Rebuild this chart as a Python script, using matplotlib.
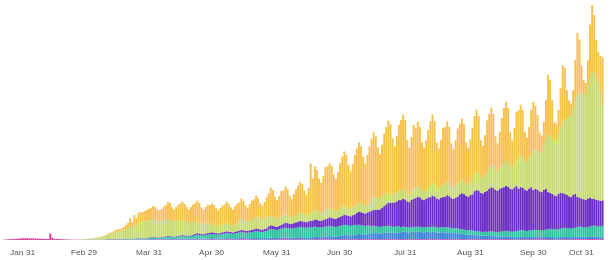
import matplotlib
matplotlib.use('Agg')
import matplotlib.pyplot as plt
import matplotlib.dates as mdates
import matplotlib.transforms as mtransforms
import numpy as np
import pandas as pd

# daily values (arbitrary units, read by eye), Jan 22 .. Nov 2 2020
start_date = '2020-01-22'
n_days = 286

pink = [
0.4,0.5,0.7,0.8,1.0,1.1,1.3,
1.4,1.6,1.7,1.6,1.8,1.6,1.6,
1.7,1.5,1.4,1.3,1.2,1.1,1.0,
1.1,6.5,2.2,1.2,1.0,1.0,0.9,
0.7,0.6,0.5,0.4,0.4,0.3,0.3,
0.3,0.2,0.3,0.2,0.3,0.3,0.2,
0.3,0.3,0.2,0.3,0.3,0.3,0.3,
0.4,0.4,0.3,0.4,0.4,0.4,0.4,
0.4,0.5,0.4,0.4,0.3,0.4,0.4,
0.4,0.5,0.4,0.4,0.4,0.4,0.5,
0.5,0.6,0.5,0.5,0.4,0.5,0.5,
0.5,0.6,0.5,0.5,0.4,0.5,0.5,
0.5,0.6,0.5,0.5,0.4,0.5,0.5,
0.5,0.6,0.5,0.5,0.4,0.5,0.5,
0.6,0.7,0.6,0.6,0.5,0.6,0.6,
0.6,0.7,0.6,0.6,0.5,0.6,0.6,
0.6,0.7,0.6,0.6,0.5,0.6,0.6,
0.6,0.7,0.6,0.6,0.5,0.6,0.6,
0.7,0.8,0.7,0.7,0.6,0.7,0.7,
0.7,0.8,0.7,0.7,0.6,0.7,0.7,
0.7,0.8,0.7,0.7,0.6,0.7,0.7,
0.7,0.8,0.7,0.7,0.6,0.7,0.7,
0.7,0.8,0.7,0.7,0.6,0.7,0.7,
0.8,0.9,0.8,0.8,0.7,0.8,0.8,
0.8,0.9,0.8,0.8,0.7,0.8,0.8,
0.8,0.9,0.8,0.8,0.7,0.8,0.8,
0.8,0.9,0.8,0.8,0.7,0.8,0.8,
0.8,0.9,0.8,0.8,0.7,0.8,0.8,
0.8,0.9,0.8,0.8,0.7,0.8,0.8,
0.8,0.9,0.8,0.8,0.7,0.8,0.8,
0.8,0.9,0.8,0.8,0.7,0.8,0.8,
0.8,0.9,0.8,0.8,0.7,0.8,0.8,
0.8,0.9,0.8,0.8,0.7,0.8,0.8,
0.8,0.9,0.8,0.8,0.7,0.8,0.8,
0.8,0.9,0.8,0.8,0.7,0.8,0.8,
0.8,0.9,0.8,0.8,0.7,0.8,0.8,
0.8,0.9,0.8,0.8,0.7,0.8,0.8,
0.8,0.9,0.8,0.8,0.7,0.8,0.8,
0.8,0.9,0.8,0.8,0.7,0.8,0.8,
0.9,1.0,0.9,0.9,0.8,0.9,0.9,
0.9,1.0,0.9,0.9,0.8,0.9,
]

blue = [
0,0,0,0,0,0,0,
0,0,0,0,0,0,0,
0,0,0,0,0,0,0,
0,0,0,0,0,0,0,
0,0,0,0,0,0,0,
0,0,0,0,0,0,0,
0,0,0,0,0,0,0,
0.1,0.1,0.1,0.1,0.1,0.1,0.1,
0.2,0.2,0.2,0.2,0.1,0.2,0.2,
0.3,0.3,0.3,0.3,0.2,0.3,0.3,
0.5,0.5,0.5,0.4,0.4,0.5,0.5,
0.7,0.7,0.7,0.6,0.6,0.7,0.7,
0.8,0.9,0.8,0.8,0.7,0.8,0.8,
1.0,1.1,1.0,0.9,0.9,1.0,1.0,
1.1,1.2,1.1,1.0,1.0,1.1,1.1,
1.2,1.3,1.2,1.1,1.1,1.2,1.2,
1.3,1.4,1.3,1.2,1.2,1.3,1.3,
1.4,1.5,1.4,1.3,1.3,1.4,1.4,
1.5,1.6,1.5,1.4,1.4,1.5,1.5,
1.7,1.8,1.7,1.6,1.6,1.7,1.8,
2.0,2.1,2.0,1.9,1.9,2.0,2.1,
2.2,2.4,2.3,2.1,2.1,2.3,2.6,
2.8,3.1,3.0,2.8,2.8,3.0,3.3,
3.8,4.1,4.0,3.8,3.7,4.0,4.3,
4.8,5.1,5.0,4.8,4.7,5.0,5.3,
5.8,6.2,6.0,5.8,5.7,6.0,6.3,
6.4,6.8,6.6,6.3,6.2,6.5,6.8,
7.0,7.4,7.3,7.0,6.9,7.2,7.4,
7.1,7.4,7.3,7.0,6.9,7.2,7.3,
6.9,7.2,7.1,6.8,6.7,7.0,7.0,
6.5,6.8,6.6,6.2,6.0,6.1,6.0,
5.4,5.3,5.1,4.8,4.6,4.6,4.4,
4.1,4.0,3.9,3.6,3.5,3.5,3.3,
3.2,3.2,3.1,2.9,2.8,2.9,2.8,
2.6,2.7,2.6,2.4,2.3,2.4,2.4,
2.3,2.4,2.3,2.2,2.1,2.2,2.3,
2.2,2.3,2.2,2.1,2.0,2.2,2.2,
2.2,2.3,2.2,2.1,2.0,2.2,2.2,
2.2,2.3,2.2,2.1,2.0,2.2,2.2,
2.2,2.3,2.2,2.1,2.0,2.2,2.2,
2.2,2.3,2.2,2.1,2.0,2.2,
]

teal = [
0,0,0,0,0,0,0,
0,0,0,0,0,0,0,
0,0,0,0,0,0,0,
0,0,0,0,0,0,0,
0,0,0,0,0,0,0,
0,0.1,0.1,0.1,0.2,0.2,0.2,
0.3,0.3,0.3,0.3,0.3,0.3,0.3,
0.4,0.4,0.4,0.4,0.4,0.4,0.4,
0.5,0.6,0.6,0.6,0.6,0.6,0.7,
0.7,0.8,0.8,0.8,0.8,0.9,1.0,
1.3,1.5,1.5,1.4,1.4,1.5,1.7,
1.9,2.0,2.0,1.9,1.9,2.0,2.2,
2.4,2.6,2.5,2.4,2.3,2.5,2.8,
3.3,3.6,3.5,3.3,3.2,3.5,3.8,
3.8,4.1,4.0,3.8,3.7,4.0,4.3,
4.6,4.9,4.8,4.6,4.5,4.8,5.2,
5.6,5.9,5.8,5.6,5.5,5.8,6.1,
6.3,6.7,6.5,6.3,6.2,6.5,7.0,
8.2,8.7,8.5,8.2,8.0,8.5,9.0,
9.3,9.7,9.5,9.2,9.1,9.5,9.8,
9.8,10.2,10.0,9.8,9.7,10.0,10.2,
9.9,10.2,10.0,9.8,9.7,10.0,10.2,
9.9,10.2,10.0,9.8,9.7,10.0,10.2,
9.9,10.2,10.0,9.8,9.7,10.0,10.0,
9.2,9.3,9.0,8.8,8.6,8.8,8.6,
7.4,7.3,7.0,6.8,6.7,6.9,6.8,
6.6,6.7,6.5,6.3,6.2,6.4,6.3,
5.1,5.2,5.0,4.9,4.8,5.0,5.0,
5.0,5.1,5.0,4.9,4.8,5.0,5.0,
5.2,5.3,5.2,5.0,4.9,5.1,5.1,
5.0,5.1,5.0,4.9,4.8,5.0,5.0,
4.5,4.6,4.5,4.4,4.3,4.5,4.5,
4.0,4.1,4.0,3.9,3.8,4.0,4.1,
4.4,4.6,4.5,4.4,4.3,4.5,4.7,
5.4,5.6,5.5,5.3,5.2,5.5,5.7,
6.4,6.6,6.5,6.3,6.2,6.5,6.7,
6.9,7.1,7.0,6.8,6.7,7.0,7.3,
7.9,8.1,8.0,7.8,7.7,8.0,8.3,
8.9,9.1,9.0,8.8,8.7,9.0,9.3,
9.9,10.2,10.0,9.8,9.7,10.0,10.4,
11.0,11.2,11.0,10.8,10.7,11.0,
]

purple = [
0,0,0,0,0,0,0,
0,0,0,0,0,0,0,
0,0,0,0,0,0,0,
0,0,0,0,0,0,0,
0,0,0,0,0,0,0,
0,0,0,0,0,0,0,
0,0,0,0,0,0,0,
0.1,0.1,0.1,0.1,0.1,0.1,0.1,
0.2,0.2,0.2,0.2,0.2,0.2,0.2,
0.3,0.3,0.3,0.3,0.3,0.3,0.3,
0.5,0.5,0.5,0.4,0.4,0.5,0.5,
0.6,0.7,0.6,0.6,0.5,0.6,0.6,
0.8,0.9,0.8,0.8,0.7,0.8,0.9,
1.4,1.6,1.5,1.4,1.3,1.5,1.6,
1.5,1.7,1.6,1.5,1.4,1.6,1.7,
1.6,1.8,1.7,1.6,1.5,1.7,1.8,
1.9,2.1,2.0,1.9,1.8,2.0,2.1,
2.4,2.6,2.5,2.4,2.3,2.5,2.7,
3.3,3.6,3.5,3.3,3.2,3.5,3.8,
4.8,5.1,5.0,4.8,4.7,5.0,5.3,
5.8,6.1,6.0,5.8,5.7,6.0,6.3,
6.8,7.2,7.0,6.8,6.7,7.0,7.3,
8.2,8.6,8.5,8.2,8.1,8.5,8.9,
9.6,10.2,10.0,9.7,9.5,10.0,10.5,
12.4,13.2,13.0,12.6,12.4,13.0,13.8,
15,16,16.5,17,17.5,18.5,20,
22,23,23.5,24,24.5,25,26,
27,28,27.5,26,25.5,27,28,
29,30,29.5,28,27.5,28.5,29.5,
30,31,30.5,29,28.5,29.5,30,
31,32,31.5,30,29.5,30.5,31.5,
35,36,35.5,34,33.5,35,36,
40,41,40.5,39,38.5,40,41,
43,44,43.5,42,41.5,43,44,
44,45,44.5,43,42.5,44,45,
42,43,42.5,41,40.5,42,43,
40,41,40.5,39,38.5,40,41,
37,36,35,34,33.5,35,36,
35,34,33,32,31.5,33,34,
30,29,28.5,28,27.5,28.5,29,
27,26.5,26,26,25.5,25.5,
]

green = [
0,0,0,0,0,0,0,
0,0,0,0,0,0,0,
0,0,0,0,0,0,0,
0,0,0,0,0,0,0,
0,0,0,0.1,0.1,0.2,0.2,
0.3,0.3,0.4,0.5,0.6,0.7,0.9,
1.1,1.4,1.7,2.0,2.4,2.8,3.2,
4,5,5.5,6,7,7,7.5,
8,8.5,9.5,10.5,12,11,13,
13,15,16,16.5,17,17.5,18,
17,18,17.5,16.5,16,16.5,17,
16.5,17,16.5,15.5,15,15.5,16,
14.5,15,14.5,13.5,13,13.5,14,
11,11.5,11,10,9.5,10,10.5,
8.5,9,8.5,7.5,7,7.5,8,
8,8.5,8,7,6.5,7,7.5,
10,11,10.5,9.5,9,9.5,10,
11,12,11.5,10.5,10,10.5,11.5,
9.5,10,9.5,8.5,8,8.5,9,
8,8.5,8,7,6.5,7,7.5,
8,8.5,8,7.5,7,7.5,8,
9,10,9.5,8.5,8,8.5,9.5,
9,9.5,9,8,7.5,8,9,
8.5,9,8.5,7.5,7,7.5,8.5,
8.5,9,8.5,8,7.5,8,9,
12,13,12.5,11.5,11,12,13,
9,10,9.5,8.5,8,9,9.5,
9,10,9.5,8,7.5,8.5,9.5,
10,11,10.5,9,8.5,9.5,10.5,
12,13,12.5,11,10.5,11.5,12.5,
13,14,13.5,12,11.5,12.5,13.5,
13,14,13.5,12,11.5,12.5,13.5,
17,19,18,16,15.5,17,18.5,
21,23,22,20,19.5,21,23,
24,26,25,23,22,24,25.5,
30,32,31,29,28,30,32,
40,39,38.5,39,39.5,44,49,
57,57,56,55,55.5,60,65,
71,74,77,80,82.5,87,94,
102,106,106,105,105,113,120,
127,126,122,118,110,95,
]

orange = [
0,0,0,0,0,0,0,
0,0,0,0,0,0,0,
0,0,0,0,0,0,0,
0,0,0,0,0,0,0,
0,0,0,0,0,0,0,
0,0,0,0,0,0,0,
0,0.1,0.2,0.3,0.4,0.5,0.6,
0.5,1,1.1,1.5,2,2.4,2.5,
2.5,3,4,5,8.5,5.5,10.5,
7.2,10.2,10.2,9.7,10.2,10.7,11.2,
12,13,12.5,11.5,11,11.5,13,
14.7,17.2,16.7,13.7,12.2,13.7,15.2,
17.9,18.4,16.9,14.9,13.4,14.9,16.4,
19.5,21,19.5,16.5,15,16.5,18,
19.2,19.7,19.2,17.2,15.7,17.2,18.7,
19.7,21.2,19.7,17.7,16.2,18.7,20.2,
18.3,20.3,18.8,15.8,14.3,16.8,19.3,
19,21,19.5,15.5,14,16.5,19.5,
23.3,27.8,26.3,21.3,18.8,21.3,24.8,
25.1,27.6,26.1,21.1,18.6,22.1,25.6,
28.3,30.8,29.3,23.8,20.3,25.8,49.3,
33.1,43.1,40.6,33.6,30.1,35.6,42.6,
42.8,44.3,42.8,35.8,32.3,37.8,44.8,
50.7,54.2,51.7,43.7,38.2,43.7,50.7,
55.7,60.2,57.7,48.2,42.7,49.2,56.2,
60.2,64.2,60.7,50.7,44.2,51.2,59.2,
68.2,72.2,68.7,55.7,48.2,56.2,65.7,
71,74,70,53,47,54.5,64.5,
60,64,60,48,44,49,57,
64,68,63,45,40,46,56.5,
56.7,59.7,55.7,42.7,38.7,44.7,54.7,
57.7,60.7,56.7,41.7,37.7,43.2,53.2,
58.4,61.4,56.9,36.4,32.4,39.4,51.9,
53.7,56.7,52.2,33.7,27.7,35.7,46.7,
55.2,58.2,53.7,33.2,26.7,35.2,48.7,
48.4,50.4,46.9,28.4,24.9,31.4,45.4,
48,44,36,20,17,24,40,
60,56,38,18,17,24,40,
57,52,28,16,11,18,40,
62,52,27,14,12,25,53,
67,58,38,30,35,48,
]

tick_dates = ['2020-01-31', '2020-02-29', '2020-03-31', '2020-04-30', '2020-05-31',
              '2020-06-30', '2020-07-31', '2020-08-31', '2020-09-30', '2020-10-31']
tick_labels = ['Jan 31', 'Feb 29', 'Mar 31', 'Apr 30', 'May 31',
               'Jun 30', 'Jul 31', 'Aug 31', 'Sep 30', 'Oct 31']

series = [pink, blue, teal, purple, green, orange]
colors = ['#D23A9C', '#3A84D8', '#2FC2A0', '#6A2BC6', '#C8DB72', '#F7C14B']

dates = pd.date_range(start_date, periods=n_days)
x = mdates.date2num(dates)

fig = plt.figure(figsize=(6.11, 2.60), dpi=100)
ax = fig.add_axes([0, 20 / 260, 1, 240 / 260])

bottom = np.zeros(n_days)
for vals, col in zip(series, colors):
    v = np.asarray(vals, dtype=float)
    bars = ax.bar(x, v, width=0.92, bottom=bottom, color=col, linewidth=0, align='center')
    for b in bars:
        b.set_snap(False)
    bottom += v

x0 = mdates.date2num(pd.Timestamp(start_date))
ax.set_xlim(x0 - 1.95, x0 + 289.0)
ax.set_ylim(0, 240)

ax.set_xticks(mdates.date2num(pd.to_datetime(tick_dates)))
ax.set_xticklabels(tick_labels, fontsize=6, color='#555555', family='Liberation Sans')
ax.tick_params(axis='x', length=0, pad=7.5)
ax.set_yticks([])
for s in ax.spines.values():
    s.set_visible(False)

# last label sits shifted left to stay inside the chart
last = ax.get_xticklabels()[-1]
last.set_transform(last.get_transform() + mtransforms.ScaledTranslation(-0.17, 0, fig.dpi_scale_trans))

fig.savefig('out.png', dpi=100)
